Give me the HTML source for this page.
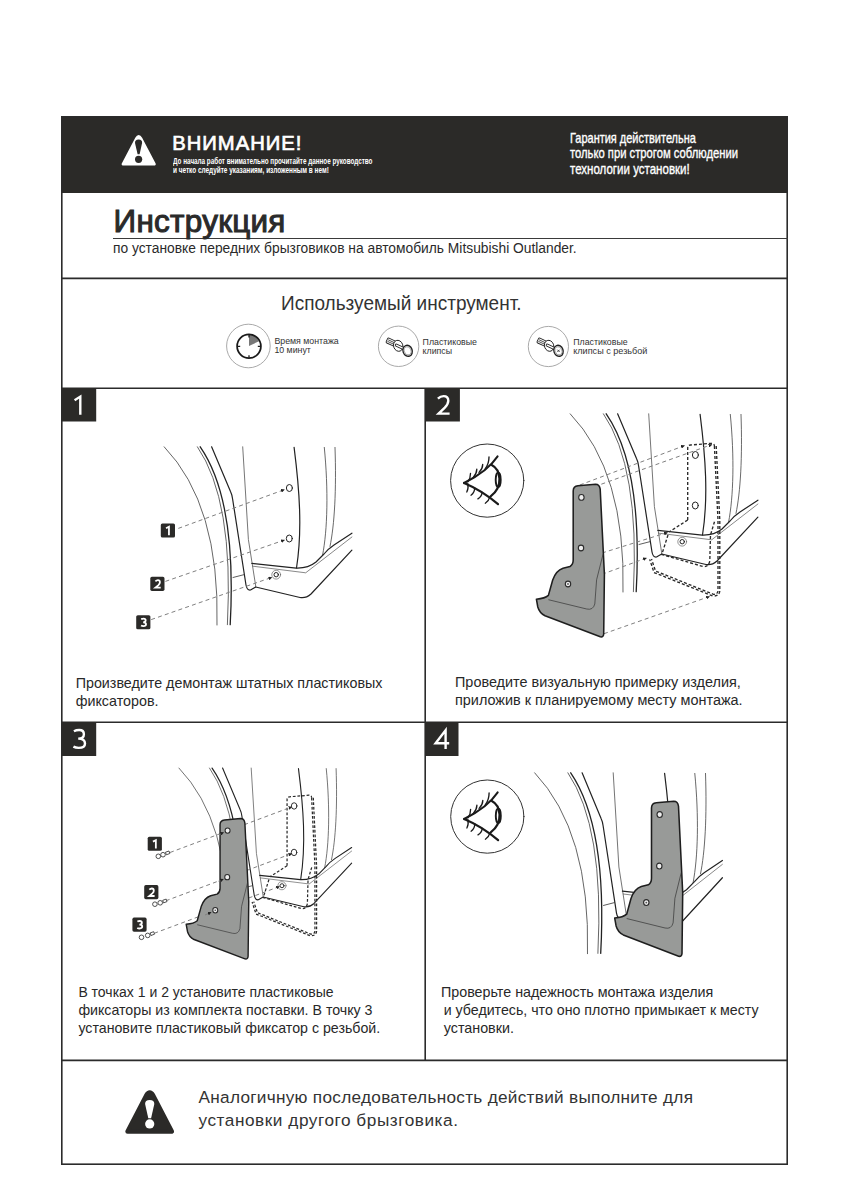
<!DOCTYPE html>
<html><head><meta charset="utf-8"><style>
html,body{margin:0;padding:0;background:#fff;}
body{width:848px;height:1200px;position:relative;overflow:hidden;font-family:"Liberation Sans",sans-serif;}
.t{position:absolute;white-space:nowrap;}
svg{position:absolute;left:0;top:0;}
</style></head><body>
<svg width="848" height="1200" viewBox="0 0 848 1200">
<defs>
  <!-- clip icons -->
  <g id="clipA">
    <g transform="translate(-7.4 -3.9) rotate(25)" stroke="#222" stroke-width="0.9">
      <rect x="-4.3" y="-2.7" width="8.6" height="5.4" rx="1.1" fill="#fff"/>
      <path d="M-3.3,-0.8 L3.6,-0.8 M-3.3,0.9 L3.6,0.9" stroke-width="0.7"/>
    </g>
    <ellipse cx="0" cy="0" rx="4.6" ry="5.6" transform="rotate(-20)" fill="#fff" stroke="#222" stroke-width="0.9"/>
    <path d="M-1.9,-0.7 L5,2.6" stroke="#222" stroke-width="2.9" stroke-linecap="round"/>
    <path d="M-1.9,-0.7 L5,2.6" stroke="#fff" stroke-width="1.3" stroke-linecap="round"/>
    <ellipse cx="9.4" cy="5" rx="4.6" ry="5.6" transform="rotate(-20 9.4 5)" fill="#fff" stroke="#222" stroke-width="1.4"/>
    <ellipse cx="9.4" cy="5" rx="3.3" ry="4.2" transform="rotate(-20 9.4 5)" fill="none" stroke="#666" stroke-width="0.5"/>
  </g>
  <!-- car body in illus1 local coordinates -->
  <g id="car" fill="none" stroke-linecap="round" stroke-linejoin="round">
    <path d="M164.2,446.8 Q220,505 217,625" stroke="#555" stroke-width="0.9"/>
    <path d="M197.4,446.8 Q234,500 227.4,624.7" stroke="#555" stroke-width="0.9"/>
    <path d="M200.2,446.8 Q237,500 230.2,624.7" stroke="#222" stroke-width="1.3"/>
    <path d="M211.6,446.8 L230.5,491.5 Q232,494.5 232.6,499 L246,585 Q247,590.5 250.5,590 L255.7,587" stroke="#222" stroke-width="1.2"/>
    <path d="M242.7,446.8 L248.4,539.6 L255.7,586" stroke="#666" stroke-width="0.9"/>
    <path d="M294.1,447.4 C299.5,490 302.5,530 296.5,568" stroke="#222" stroke-width="1.2"/>
    <path d="M324.3,447.4 C328.5,490 327.5,530 322.6,555" stroke="#444" stroke-width="0.8"/>
    <path d="M335,447.4 C336.5,490 334.5,525 330,546.4" stroke="#444" stroke-width="0.8"/>
    <path d="M251.9,563.4 L296.2,568.1 Q308,568.5 316,562 L324,554 Q328,549 334,545 L351.9,533.2" stroke="#222" stroke-width="1.2"/>
    <path d="M252.8,566.2 L305.7,572.8 L351.9,537" stroke="#555" stroke-width="0.7"/>
    <path d="M255.7,587 L300,597.5 Q306,598.5 311,594 L351.9,550.2" stroke="#222" stroke-width="1.2"/>
    <path d="M233,577.5 L243.8,574.7" stroke="#333" stroke-width="0.8"/>
    <ellipse cx="289.4" cy="488" rx="3" ry="3.5" stroke="#222" stroke-width="1" fill="#fff"/>
    <ellipse cx="289.3" cy="538.5" rx="3" ry="3.5" stroke="#222" stroke-width="1" fill="#fff"/>
    <circle cx="276.2" cy="574.7" r="4.4" stroke="#666" stroke-width="0.7" fill="#fff"/>
    <circle cx="276.2" cy="574.7" r="2.2" stroke="#222" stroke-width="1"/>
  </g>
  <!-- dashed projected outline in car-local coords -->
  <g id="outline" fill="none" stroke="#2a2a2a" stroke-width="1.35" stroke-dasharray="3 2">
    <path d="M281.7,553 L281.7,481 Q281.7,478.2 284.5,478 L305.5,476.3 Q308.3,476.3 308.4,479"/>
    <path d="M281.7,553 L263,565"/>
    <path d="M262,568 L255.8,587.5 L297,599.5 Q302.5,600.5 303.8,594 L304.5,568 L309,553"/>
    <path d="M308.4,479 L312,553 L312,624 Q311.5,627.5 307.5,627.3 L249.5,604 L245.5,592"/>
    <path d="M310.2,479 L313.8,553 L313.8,624 Q313.3,629.3 307,629.1 L248,605.5 L243.7,592.4"/>
  </g>
  <!-- mudflap in illus2 coords -->
  <g id="flap" stroke-linejoin="round">
    <path d="M573.2,491 Q573.2,486.3 578,485.8 L595.5,484.2 Q599.6,484.2 600.2,489.2 L602.3,531.7 L604.4,574.2 L603.7,634 Q603.5,637.5 600.3,636.8 L545,615.8 Q539.5,613 537.8,607 L536.4,599.2 Q545,598.5 548.4,595.4 L552.7,580 Q556,570.5 563,568.2 L570,566.5 Q573.2,564.5 573.2,560 Z" fill="#989a98" stroke="#1e1e1e" stroke-width="1.55"/>
    <path d="M548.4,599.7 L586.7,609 Q593,610.5 594.8,604 L596.6,579.8 L603,554.3" fill="none" stroke="#333" stroke-width="0.7"/>
    <ellipse cx="581.4" cy="497.4" rx="2.7" ry="2.9" fill="#eee" stroke="#2a2a2a" stroke-width="1.1"/>
    <ellipse cx="581" cy="548" rx="2.7" ry="2.9" fill="#eee" stroke="#2a2a2a" stroke-width="1.1"/>
    <ellipse cx="568" cy="584" rx="2.7" ry="2.9" fill="#eee" stroke="#2a2a2a" stroke-width="1.1"/>
    <circle cx="568" cy="584" r="0.9" fill="#555"/>
  </g>
  <!-- eye icon centered at 0,0 -->
  <g id="eye" fill="none" stroke="#1a1a1a" stroke-linecap="round">
    <circle cx="0" cy="0" r="36.6" stroke="#333" stroke-width="1"/>
    <path d="M-23.1,2.4 Q0.5,-9.4 10.3,-24.1" stroke-width="2.2"/>
    <path d="M-23.1,2.4 Q-5,10 10.8,23.6" stroke-width="2.2"/>
    <path d="M4.5,-15.6 C13.5,-11 16.5,6 3.4,15.7" stroke-width="2.2"/>
    <ellipse cx="11" cy="-0.8" rx="2.5" ry="7.2" stroke-width="1.9"/>
    <path d="M-19.4,1.3 Q-16.5,-3 -16.7,-7.2" stroke-width="1.35"/>
    <path d="M-14.1,-2.9 Q-10.5,-7 -10.4,-11.4" stroke-width="1.35"/>
    <path d="M-8.2,-8.2 Q-4.5,-12 -4.5,-16.2" stroke-width="1.35"/>
    <path d="M-1.9,-11.9 Q1.8,-17 1.8,-23.6" stroke-width="1.35"/>
    <path d="M-19.4,3 Q-18.5,8 -20.4,11.4" stroke-width="1.35"/>
    <path d="M-12.5,7.2 Q-12.5,12 -16.2,14.6" stroke-width="1.35"/>
    <path d="M-5.1,11.9 Q-5.5,16 -9.3,18.3" stroke-width="1.35"/>
    <path d="M2.4,16.7 Q1.5,20.5 -1.9,22.6" stroke-width="1.35"/>
  </g>
  <marker id="ah" viewBox="0 0 6 6" refX="5.5" refY="3" markerWidth="3.8" markerHeight="3.8" orient="auto" markerUnits="userSpaceOnUse">
    <path d="M0,0 L6,3 L0,6 Z" fill="#222"/>
  </marker>
</defs>

<!-- frame -->
<rect x="61" y="116" width="727" height="77" fill="#2b2a28"/>
<g stroke="#2b2b2b" stroke-width="1.6" fill="none">
  <rect x="61.8" y="116.8" width="725.4" height="1047.4"/>
  <line x1="61" y1="278.4" x2="788" y2="278.4"/>
  <line x1="61" y1="388.2" x2="788" y2="388.2"/>
  <line x1="61" y1="722.2" x2="788" y2="722.2"/>
  <line x1="61" y1="1060.4" x2="788" y2="1060.4"/>
  <line x1="425.2" y1="388" x2="425.2" y2="1060.4"/>
</g>
<line x1="113" y1="238.5" x2="788" y2="238.5" stroke="#3a3a3a" stroke-width="1.1"/>

<!-- header warning triangle -->
<path d="M123,164.2 L136.5,138.4 Q138.7,134.4 140.9,138.4 L154.4,164.2 Z" fill="#fff" stroke="#fff" stroke-width="2.8" stroke-linejoin="round"/>
<path d="M135,143 Q134.8,139.5 138.6,139.5 Q142.4,139.5 142.1,143 L139.6,154.2 L137.6,154.2 Z" fill="#2b2a28"/>
<circle cx="138.6" cy="159.3" r="3.6" fill="#2b2a28"/>

<!-- bottom warning triangle -->
<path d="M127.6,1131.5 L146.4,1095.2 Q149.7,1090 153,1095.2 L171.8,1131.5 Z" fill="#2b2a28" stroke="#2b2a28" stroke-width="4.6" stroke-linejoin="round"/>
<path d="M145.1,1104 Q145,1099.9 149.7,1099.9 Q154.4,1099.9 154.3,1104 L151.1,1118.3 L148.3,1118.3 Z" fill="#fff"/>
<circle cx="149.7" cy="1123.9" r="4.6" fill="#fff"/>

<!-- number boxes -->
<g fill="#2b2a28">
  <rect x="62" y="388" width="34.2" height="33.5"/>
  <rect x="425.2" y="388" width="34.7" height="33.5"/>
  <rect x="62" y="722" width="34.2" height="34"/>
  <rect x="425.2" y="722" width="33.3" height="34"/>
</g>
<g fill="none" stroke="#fff" stroke-width="2.4" stroke-linejoin="miter">
  <path d="M74.6,400.2 L80.3,396.6 L80.3,414.8"/>
  <path d="M437.9,398.6 Q440.5,396.1 443.6,396.1 Q448.3,396.1 448.3,400.8 Q448.3,403.9 444.8,407.6 L438.6,413.6 L449.6,413.6"/>
  <path d="M73.9,731.2 Q76.2,730 79.2,730 Q83.9,730 83.9,734.2 Q83.9,738.6 78.2,738.6 Q85,738.6 85,743.4 Q85,747.9 78.7,747.9 Q75.6,747.9 73.4,746.6"/>
  <path d="M445.6,749 L445.6,730.2 L435.6,743.2 L449.2,743.2"/>
</g>

<!-- tools -->
<g fill="none">
  <circle cx="248.4" cy="346" r="21.8" stroke="#9a9a9a" stroke-width="0.85"/>
  <circle cx="398.6" cy="346.3" r="20.2" stroke="#9a9a9a" stroke-width="0.85"/>
  <circle cx="548.4" cy="346.5" r="20.1" stroke="#9a9a9a" stroke-width="0.85"/>
  <!-- clock -->
  <path d="M249,346 L249,334.9 A11.1,11.1 0 0 1 259,341.2 Z" fill="#777"/>
  <circle cx="249" cy="346.3" r="11.9" stroke="#1a1a1a" stroke-width="1.75"/>
  <path d="M237.5,346.4 L240.2,346.4 M257.8,346.4 L260.5,346.4 M249,355.2 L249,357.8 M249,335 L249,337.4" stroke="#1a1a1a" stroke-width="1.3"/>
</g>
<use href="#clipA" transform="translate(398.2 345.8)"/>
<use href="#clipA" transform="translate(549.1 345.8)"/>
<path d="M557.4,349.7 L559.6,351.9 M559.6,349.7 L557.4,351.9" stroke="#333" stroke-width="0.9"/>

<!-- ILLUS 1 -->
<use href="#car"/>
<g fill="none" stroke="#808080" stroke-width="1" stroke-dasharray="4 3.2">
  <path d="M178.3,528.4 L284.5,489.6" marker-end="url(#ah)"/>
  <path d="M165.4,581.4 L284.5,540" marker-end="url(#ah)"/>
  <path d="M151.2,619.6 L272,577.3" marker-end="url(#ah)"/>
</g>
<rect x="160.8" y="523.4" width="14.2" height="14.1" rx="1.6" fill="#2b2a28"/><path d="M2,3.6 L6.4,1.35 L6.4,14" transform="translate(164.70 525.90) scale(0.664)" fill="none" stroke="#fff" stroke-width="2.7"/>
<rect x="150.3" y="576.8" width="14.2" height="14.1" rx="1.6" fill="#2b2a28"/><path d="M1.8,3.2 Q3.6,1.35 5.6,1.35 Q8.6,1.35 8.6,4.6 Q8.6,6.6 6.4,8.8 L1.8,12.65 L9.8,12.65" transform="translate(154.20 579.30) scale(0.664)" fill="none" stroke="#fff" stroke-width="2.7"/>
<rect x="136.2" y="615.2" width="14.2" height="14.1" rx="1.6" fill="#2b2a28"/><path d="M1.6,2.2 Q3.4,1.35 5.2,1.35 Q8.4,1.35 8.4,4 Q8.4,6.9 4.6,6.9 Q8.9,6.9 8.9,9.8 Q8.9,12.65 5,12.65 Q2.8,12.65 1.4,11.8" transform="translate(140.10 617.70) scale(0.664)" fill="none" stroke="#fff" stroke-width="2.7"/>


<!-- ILLUS 2 -->
<use href="#eye" transform="translate(487.2 480.6)"/>
<g transform="translate(406 -33)"><use href="#car"/><use href="#outline"/></g>
<g fill="none" stroke="#808080" stroke-width="1" stroke-dasharray="4 3.2">
  <path d="M579.8,485 L684.5,445.6" marker-end="url(#ah)"/>
  <path d="M601.3,484.2 L712,444.5" marker-end="url(#ah)"/>
  <path d="M602,553 L667.5,532.5" marker-end="url(#ah)"/>
  <path d="M602,574.3 L646.5,558" marker-end="url(#ah)"/>
  <path d="M604,633.7 L709.5,596.5" marker-end="url(#ah)"/>
</g>
<use href="#flap"/>

<!-- ILLUS 3 -->
<g transform="matrix(0.92 0 0 0.92 27.9 357)"><use href="#car"/><use href="#outline"/></g>
<g fill="none" stroke="#808080" stroke-width="1" stroke-dasharray="4 3.2">
  <path d="M170,852.5 L292,806.8" marker-end="url(#ah)"/>
  <path d="M165.8,900.8 L292,853.5" marker-end="url(#ah)"/>
  <path d="M154.2,933.3 L279.5,886.5" marker-end="url(#ah)"/>
</g>
<use href="#flap" transform="matrix(0.92 0 0 0.92 -307.3 373)"/>
<g fill="none" stroke="#808080" stroke-width="1" stroke-dasharray="4 3.2">
  <path d="M219,834.5 L223.8,832.4" marker-end="url(#ah)"/>
  <path d="M218.5,881.2 L223.5,879.2" marker-end="url(#ah)"/>
  <path d="M205,915 L211.3,912.2" marker-end="url(#ah)"/>
</g>
<rect x="147.7" y="836.7" width="14.2" height="14.1" rx="1.6" fill="#2b2a28"/><path d="M2,3.6 L6.4,1.35 L6.4,14" transform="translate(151.60 839.20) scale(0.664)" fill="none" stroke="#fff" stroke-width="2.7"/>
<rect x="144.2" y="885.1" width="14.2" height="14.1" rx="1.6" fill="#2b2a28"/><path d="M1.8,3.2 Q3.6,1.35 5.6,1.35 Q8.6,1.35 8.6,4.6 Q8.6,6.6 6.4,8.8 L1.8,12.65 L9.8,12.65" transform="translate(148.10 887.60) scale(0.664)" fill="none" stroke="#fff" stroke-width="2.7"/>
<rect x="132.4" y="917.6" width="14.2" height="14.1" rx="1.6" fill="#2b2a28"/><path d="M1.6,2.2 Q3.4,1.35 5.2,1.35 Q8.4,1.35 8.4,4 Q8.4,6.9 4.6,6.9 Q8.9,6.9 8.9,9.8 Q8.9,12.65 5,12.65 Q2.8,12.65 1.4,11.8" transform="translate(136.30 920.10) scale(0.664)" fill="none" stroke="#fff" stroke-width="2.7"/>

<g fill="#fff" stroke="#333" stroke-width="0.85">
  <circle cx="158.3" cy="856.3" r="2.3"/><circle cx="163" cy="854.7" r="2.3"/><path d="M165.5,852.2 L169,851 L169.8,853.5 L166.3,854.8 Z"/>
  <circle cx="154.9" cy="904.2" r="2.3"/><circle cx="160.2" cy="902.8" r="2.3"/><path d="M162.7,900.3 L166.2,899.1 L167,901.6 L163.5,902.9 Z"/>
  <circle cx="141.5" cy="937.3" r="2.3"/><circle cx="147.7" cy="935.4" r="2.3"/><path d="M150.2,932.9 L153.7,931.7 L154.5,934.2 L151,935.5 Z"/>
</g>

<!-- ILLUS 4 -->
<use href="#eye" transform="translate(487.3 816.6)"/>
<g transform="matrix(1 0 0 1.015 370.5 319.3)"><use href="#car"/></g>
<use href="#flap" transform="matrix(1 0 0 1.016 78.3 309.25)"/>

</svg>
<div class="t" style="left:172.3px;top:131.18px;font-size:20.2px;line-height:24.24px;color:#ffffff;font-weight:normal;letter-spacing:1.0px;-webkit-text-stroke:0.7px #fff;">ВНИМАНИЕ!</div>
<div class="t" style="left:173px;top:155.90px;font-size:9.3px;line-height:11.16px;color:#ffffff;font-weight:bold;transform:scaleX(0.68);transform-origin:0 0;">До начала работ внимательно прочитайте данное руководство</div>
<div class="t" style="left:173px;top:164.50px;font-size:9.3px;line-height:11.16px;color:#ffffff;font-weight:bold;transform:scaleX(0.69);transform-origin:0 0;">и четко следуйте указаниям, изложенным в нем!</div>
<div class="t" style="left:570.2px;top:129.98px;font-size:14.5px;line-height:17.4px;color:#ffffff;font-weight:normal;transform:scaleX(0.757);transform-origin:0 0;-webkit-text-stroke:0.35px #fff;">Гарантия действительна</div>
<div class="t" style="left:570.2px;top:145.38px;font-size:14.5px;line-height:17.4px;color:#ffffff;font-weight:normal;transform:scaleX(0.775);transform-origin:0 0;-webkit-text-stroke:0.35px #fff;">только при строгом соблюдении</div>
<div class="t" style="left:570.2px;top:160.68px;font-size:14.5px;line-height:17.4px;color:#ffffff;font-weight:normal;transform:scaleX(0.795);transform-origin:0 0;-webkit-text-stroke:0.35px #fff;">технологии установки!</div>
<div class="t" style="left:113.6px;top:202.68px;font-size:31.4px;line-height:37.68px;color:#2a2a2a;font-weight:normal;letter-spacing:0.3px;-webkit-text-stroke:1.05px #2a2a2a;">Инструкция</div>
<div class="t" style="left:113px;top:240.84px;font-size:13.8px;line-height:16.56px;color:#2a2a2a;font-weight:normal;">по установке передних брызговиков на автомобиль Mitsubishi Outlander.</div>
<div class="t" style="left:281px;top:291.74px;font-size:19.4px;line-height:23.28px;color:#333;font-weight:normal;transform:scaleX(0.98);transform-origin:0 0;">Используемый инструмент.</div>
<div class="t" style="left:274.4px;top:336.37px;font-size:8.8px;line-height:10.56px;color:#333;font-weight:normal;">Время монтажа</div>
<div class="t" style="left:274.4px;top:345.37px;font-size:8.8px;line-height:10.56px;color:#333;font-weight:normal;">10 минут</div>
<div class="t" style="left:422.6px;top:336.97px;font-size:8.8px;line-height:10.56px;color:#333;font-weight:normal;">Пластиковые</div>
<div class="t" style="left:422.6px;top:346.17px;font-size:8.8px;line-height:10.56px;color:#333;font-weight:normal;">клипсы</div>
<div class="t" style="left:573.2px;top:336.97px;font-size:8.8px;line-height:10.56px;color:#333;font-weight:normal;">Пластиковые</div>
<div class="t" style="left:573.2px;top:345.69px;font-size:9.1px;line-height:10.92px;color:#333;font-weight:normal;">клипсы с резьбой</div>
<div class="t" style="left:75.7px;top:674.57px;font-size:14.3px;line-height:17.16px;color:#282828;font-weight:normal;">Произведите демонтаж штатных пластиковых</div>
<div class="t" style="left:75.7px;top:692.57px;font-size:14.3px;line-height:17.16px;color:#282828;font-weight:normal;">фиксаторов.</div>
<div class="t" style="left:455px;top:674.44px;font-size:14.43px;line-height:17.32px;color:#282828;font-weight:normal;">Проведите визуальную примерку изделия,</div>
<div class="t" style="left:455px;top:692.44px;font-size:14.43px;line-height:17.32px;color:#282828;font-weight:normal;">приложив к планируемому месту монтажа.</div>
<div class="t" style="left:78.4px;top:983.95px;font-size:14px;line-height:16.8px;color:#282828;font-weight:normal;">В точках 1 и 2 установите пластиковые</div>
<div class="t" style="left:78.4px;top:1001.86px;font-size:14.2px;line-height:17.04px;color:#282828;font-weight:normal;">фиксаторы из комплекта поставки. В точку 3</div>
<div class="t" style="left:78.4px;top:1019.96px;font-size:14.2px;line-height:17.04px;color:#282828;font-weight:normal;">установите пластиковый фиксатор с резьбой.</div>
<div class="t" style="left:441px;top:983.77px;font-size:14.3px;line-height:17.16px;color:#282828;font-weight:normal;">Проверьте надежность монтажа изделия</div>
<div class="t" style="left:439.8px;top:1001.96px;font-size:14.2px;line-height:17.04px;color:#282828;font-weight:normal;white-space:pre;"> и убедитесь, что оно плотно примыкает к месту</div>
<div class="t" style="left:439.8px;top:1019.87px;font-size:14.3px;line-height:17.16px;color:#282828;font-weight:normal;white-space:pre;"> установки.</div>
<div class="t" style="left:198.5px;top:1087.32px;font-size:17.2px;line-height:20.64px;color:#333;font-weight:normal;letter-spacing:0.29px;">Аналогичную последовательность действий выполните для</div>
<div class="t" style="left:198.5px;top:1110.12px;font-size:17.2px;line-height:20.64px;color:#333;font-weight:normal;letter-spacing:0.55px;">установки другого брызговика.</div>

</body></html>
